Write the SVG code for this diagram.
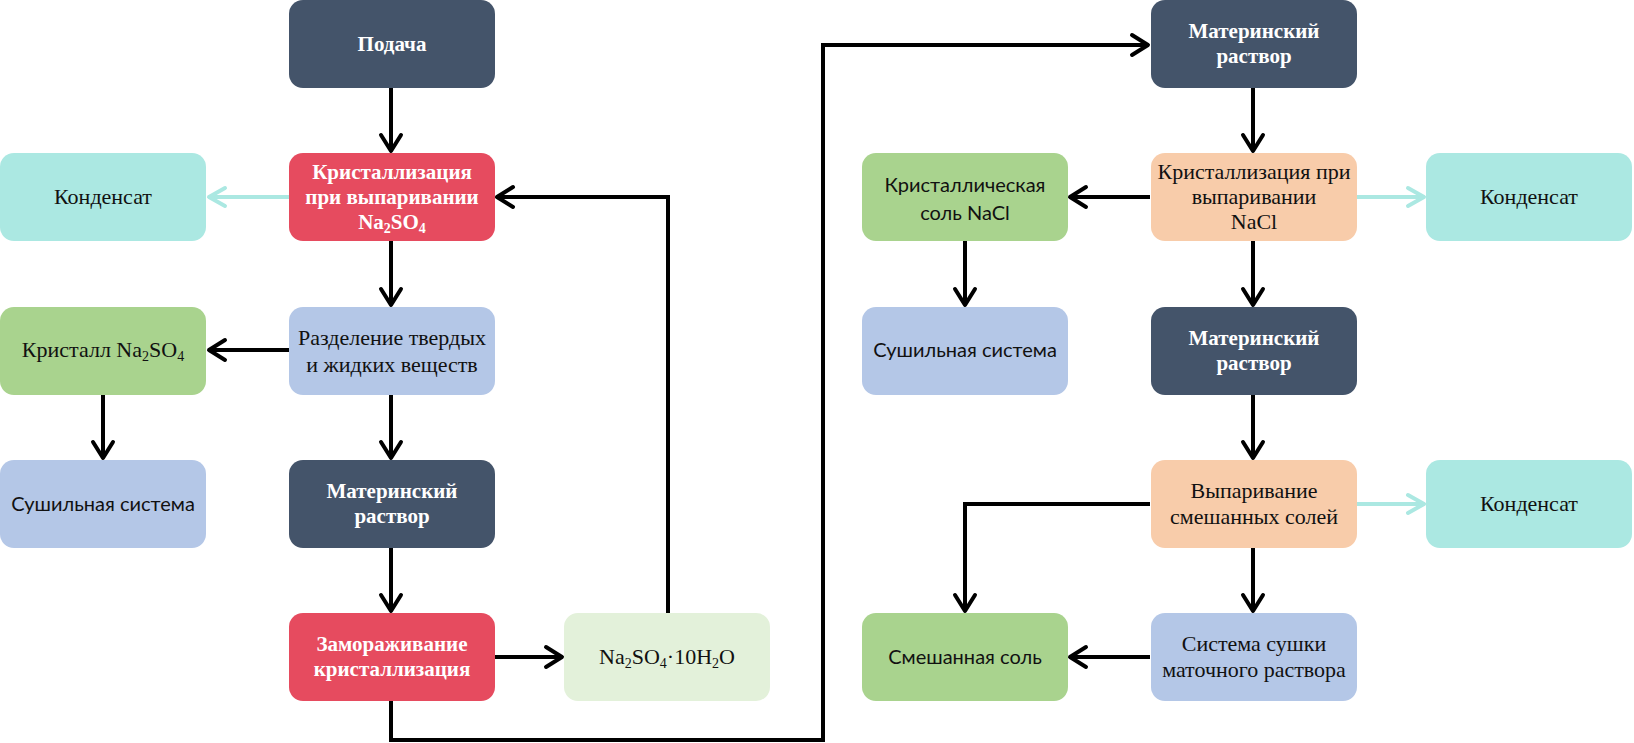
<svg xmlns="http://www.w3.org/2000/svg" width="1634" height="743" viewBox="0 0 1634 743">
<style>
.box{stroke:none}
.navy{fill:#44546A}
.red{fill:#E64B5F}
.teal{fill:#ABE8E2}
.blue{fill:#B4C7E7}
.green{fill:#A9D38E}
.pale{fill:#E3F1DA}
.peach{fill:#F8CCAA}
text{text-anchor:middle;font-size:22px}
.sb{font-family:"Liberation Serif","Times New Roman",serif;font-weight:bold;fill:#fff;font-size:21px}
.sr{font-family:"Liberation Serif","Times New Roman",serif;fill:#111}
.ss{font-family:Lato,"Noto Sans",sans-serif;fill:#111;font-size:20px}
.c{fill:none;stroke:#000;stroke-width:4}
.ct{fill:none;stroke:#ABE8E2;stroke-width:4}
</style>
<defs>
<marker id="ah" viewBox="-22 -13 26 26" refX="0" refY="0" markerWidth="26" markerHeight="26" markerUnits="userSpaceOnUse" orient="auto">
<path d="M-16,-10 L0,0 L-16,10" fill="none" stroke="#000" stroke-width="4" stroke-linejoin="round" stroke-linecap="round"/>
</marker>
<marker id="aht" viewBox="-22 -13 26 26" refX="0" refY="0" markerWidth="26" markerHeight="26" markerUnits="userSpaceOnUse" orient="auto">
<path d="M-16,-9 L0,0 L-16,9" fill="none" stroke="#ABE8E2" stroke-width="4" stroke-linejoin="round" stroke-linecap="round"/>
</marker>
</defs>

<g id="connectors">
<path class="c" d="M391,88 V151" marker-end="url(#ah)"/>
<path class="ct" d="M289,197 H209" marker-end="url(#aht)"/>
<path class="c" d="M391,241 V305" marker-end="url(#ah)"/>
<path class="c" d="M289,350 H209" marker-end="url(#ah)"/>
<path class="c" d="M103,394 V458" marker-end="url(#ah)"/>
<path class="c" d="M391,394 V458" marker-end="url(#ah)"/>
<path class="c" d="M391,548 V611" marker-end="url(#ah)"/>
<path class="c" d="M495,657 H562" marker-end="url(#ah)"/>
<path class="c" d="M668,613 V197 H497" marker-end="url(#ah)"/>
<path class="c" d="M391,701 V740 H823 V45 H1148" marker-end="url(#ah)"/>
<path class="c" d="M1253,88 V151" marker-end="url(#ah)"/>
<path class="c" d="M1150,197 H1070" marker-end="url(#ah)"/>
<path class="ct" d="M1357,197 H1424" marker-end="url(#aht)"/>
<path class="c" d="M965,241 V305" marker-end="url(#ah)"/>
<path class="c" d="M1253,241 V305" marker-end="url(#ah)"/>
<path class="c" d="M1253,394 V458" marker-end="url(#ah)"/>
<path class="ct" d="M1357,504 H1424" marker-end="url(#aht)"/>
<path class="c" d="M1150,504 H965 V611" marker-end="url(#ah)"/>
<path class="c" d="M1253,548 V611" marker-end="url(#ah)"/>
<path class="c" d="M1150,657 H1070" marker-end="url(#ah)"/>
</g>

<g id="feed"><rect class="box navy" x="289" y="0" width="206" height="88" rx="14"/><text class="sb" x="392" y="51">Подача</text></g>
<g id="evap-na2so4"><rect class="box red" x="289" y="153" width="206" height="88" rx="14"/>
<text class="sb" x="392" y="179">Кристаллизация</text><text class="sb" x="392" y="204">при выпаривании</text><text class="sb" x="392" y="229">Na<tspan font-size="14" dy="4">2</tspan><tspan dy="-4">SO</tspan><tspan font-size="14" dy="4">4</tspan></text></g>
<g id="cond1"><rect class="box teal" x="0" y="153" width="206" height="88" rx="14"/><text class="sr" x="103" y="204">Конденсат</text></g>
<g id="separation"><rect class="box blue" x="289" y="307" width="206" height="88" rx="14"/>
<text class="sr" x="392" y="345">Разделение твердых</text><text class="sr" x="392" y="372">и жидких веществ</text></g>
<g id="crystal-na2so4"><rect class="box green" x="0" y="307" width="206" height="88" rx="14"/>
<text class="sr" x="103" y="357">Кристалл Na<tspan font-size="14" dy="4">2</tspan><tspan dy="-4">SO</tspan><tspan font-size="14" dy="4">4</tspan></text></g>
<g id="dry1"><rect class="box blue" x="0" y="460" width="206" height="88" rx="14"/><text class="ss" x="103" y="511">Сушильная система</text></g>
<g id="mother1"><rect class="box navy" x="289" y="460" width="206" height="88" rx="14"/>
<text class="sb" x="392" y="498">Материнский</text><text class="sb" x="392" y="523">раствор</text></g>
<g id="freeze"><rect class="box red" x="289" y="613" width="206" height="88" rx="14"/>
<text class="sb" x="392" y="651">Замораживание</text><text class="sb" x="392" y="676">кристаллизация</text></g>
<g id="hydrate"><rect class="box pale" x="564" y="613" width="206" height="88" rx="14"/>
<text class="sr" x="667" y="664">Na<tspan font-size="14" dy="4">2</tspan><tspan dy="-4">SO</tspan><tspan font-size="14" dy="4">4</tspan><tspan dy="-4">·10H</tspan><tspan font-size="14" dy="4">2</tspan><tspan dy="-4">O</tspan></text></g>
<g id="mother2"><rect class="box navy" x="1151" y="0" width="206" height="88" rx="14"/>
<text class="sb" x="1254" y="38">Материнский</text><text class="sb" x="1254" y="63">раствор</text></g>
<g id="nacl-salt"><rect class="box green" x="862" y="153" width="206" height="88" rx="14"/>
<text class="ss" x="965" y="192">Кристаллическая</text><text class="ss" x="965" y="220">соль NaCl</text></g>
<g id="evap-nacl"><rect class="box peach" x="1151" y="153" width="206" height="88" rx="14"/>
<text class="sr" x="1254" y="179">Кристаллизация при</text><text class="sr" x="1254" y="204">выпаривании</text><text class="sr" x="1254" y="229">NaCl</text></g>
<g id="cond2"><rect class="box teal" x="1426" y="153" width="206" height="88" rx="14"/><text class="sr" x="1529" y="204">Конденсат</text></g>
<g id="dry2"><rect class="box blue" x="862" y="307" width="206" height="88" rx="14"/><text class="ss" x="965" y="357">Сушильная система</text></g>
<g id="mother3"><rect class="box navy" x="1151" y="307" width="206" height="88" rx="14"/>
<text class="sb" x="1254" y="345">Материнский</text><text class="sb" x="1254" y="370">раствор</text></g>
<g id="evap-mixed"><rect class="box peach" x="1151" y="460" width="206" height="88" rx="14"/>
<text class="sr" x="1254" y="498">Выпаривание</text><text class="sr" x="1254" y="524">смешанных солей</text></g>
<g id="cond3"><rect class="box teal" x="1426" y="460" width="206" height="88" rx="14"/><text class="sr" x="1529" y="511">Конденсат</text></g>
<g id="mixed-salt"><rect class="box green" x="862" y="613" width="206" height="88" rx="14"/><text class="ss" x="965" y="664">Смешанная соль</text></g>
<g id="dry3"><rect class="box blue" x="1151" y="613" width="206" height="88" rx="14"/>
<text class="sr" x="1254" y="651">Система сушки</text><text class="sr" x="1254" y="677">маточного раствора</text></g>
</svg>
